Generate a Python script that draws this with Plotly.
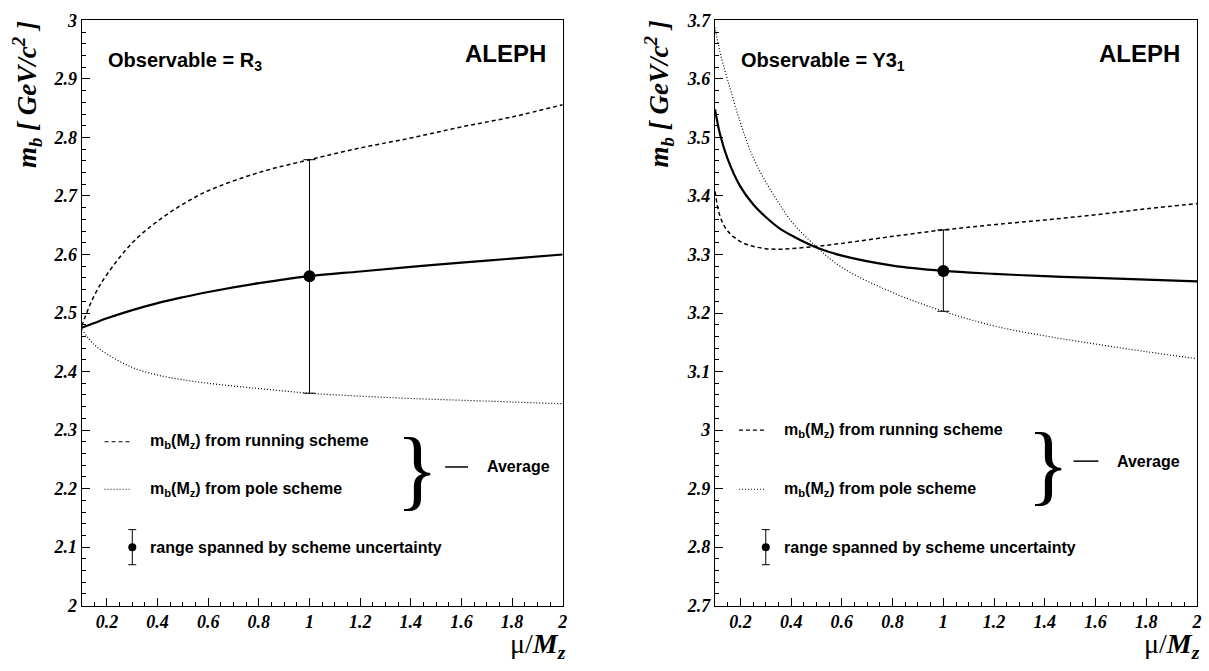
import plotly.graph_objects as go

W, H = 1209, 671

# ---------------- data ----------------
mu_r3 = [0.1, 0.15, 0.2, 0.3, 0.4, 0.5, 0.6, 0.8, 1.0, 1.2, 1.4, 1.6, 1.8, 2.0]
r3_average = [2.475, 2.483, 2.491, 2.505, 2.517, 2.527, 2.536, 2.551, 2.563, 2.571, 2.579, 2.586, 2.593, 2.600]
r3_running = [2.478, 2.530, 2.566, 2.620, 2.657, 2.686, 2.709, 2.740, 2.762, 2.782, 2.799, 2.818, 2.835, 2.856]
r3_pole = [2.472, 2.446, 2.430, 2.407, 2.394, 2.386, 2.380, 2.371, 2.363, 2.358, 2.354, 2.351, 2.348, 2.345]

mu_y3 = [0.1, 0.12, 0.15, 0.2, 0.25, 0.3, 0.35, 0.4, 0.5, 0.6, 0.8, 1.0, 1.2, 1.4, 1.6, 1.8, 2.0]
y3_average = [3.548, 3.505, 3.463, 3.416, 3.386, 3.364, 3.346, 3.333, 3.312, 3.298, 3.281, 3.272, 3.267, 3.263, 3.260, 3.257, 3.254]
y3_running = [3.408, 3.365, 3.340, 3.322, 3.314, 3.310, 3.309, 3.310, 3.314, 3.319, 3.331, 3.342, 3.351, 3.359, 3.368, 3.378, 3.387]
y3_pole = [3.688, 3.645, 3.598, 3.525, 3.466, 3.424, 3.389, 3.357, 3.313, 3.278, 3.235, 3.203, 3.178, 3.161, 3.147, 3.134, 3.122]

point_mu = [1.0]
r3_point = [2.563]
r3_point_low = [2.363]
r3_point_high = [2.762]
y3_point = [3.272]
y3_point_low = [3.203]
y3_point_high = [3.342]

# legend key marker (data coordinates)
key_mu = [0.3]
r3_key = [2.1]
y3_key = [2.8]
key_err = [0.03]

x_tickvals = [0.2, 0.4, 0.6, 0.8, 1.0, 1.2, 1.4, 1.6, 1.8, 2.0]
x_ticktext = ["0.2", "0.4", "0.6", "0.8", "1", "1.2", "1.4", "1.6", "1.8", "2"]
r3_tickvals = [2.0, 2.1, 2.2, 2.3, 2.4, 2.5, 2.6, 2.7, 2.8, 2.9, 3.0]
r3_ticktext = ["2", "2.1", "2.2", "2.3", "2.4", "2.5", "2.6", "2.7", "2.8", "2.9", "3"]
y3_tickvals = [2.7, 2.8, 2.9, 3.0, 3.1, 3.2, 3.3, 3.4, 3.5, 3.6, 3.7]
y3_ticktext = ["2.7", "2.8", "2.9", "3", "3.1", "3.2", "3.3", "3.4", "3.5", "3.6", "3.7"]

legend_running = "m<sub>b</sub>(M<sub>z</sub>) from running scheme"
legend_pole = "m<sub>b</sub>(M<sub>z</sub>) from pole scheme"
legend_range = "range spanned by scheme uncertainty"
legend_average = "Average"
ytitle = "<b><i>m<sub>b</sub> [ GeV/c<sup>2</sup> ]</i></b>"
xtitle = "\u03bc/<b><i>M<sub>z</sub></i></b>"


def px(x):
    return x / W


def py(y):
    return 1 - y / H


def bi(labels):
    return ["<b><i>%s</i></b>" % s for s in labels]


fig = go.Figure()

panels = [
    dict(xa="x", ya="y", mu=mu_r3, avg=r3_average, run=r3_running, pole=r3_pole,
         pc=r3_point, pl=r3_point_low, ph=r3_point_high, key=r3_key),
    dict(xa="x2", ya="y2", mu=mu_y3, avg=y3_average, run=y3_running, pole=y3_pole,
         pc=y3_point, pl=y3_point_low, ph=y3_point_high, key=y3_key),
]

for p in panels:
    fig.add_trace(go.Scatter(x=p["mu"], y=p["run"], mode="lines", xaxis=p["xa"], yaxis=p["ya"],
                             line=dict(color="black", width=1.5, dash="4px,3px", shape="spline"),
                             hoverinfo="skip"))
    fig.add_trace(go.Scatter(x=p["mu"], y=p["pole"], mode="lines", xaxis=p["xa"], yaxis=p["ya"],
                             line=dict(color="black", width=1.2, dash="1px,2px", shape="spline"),
                             hoverinfo="skip"))
    fig.add_trace(go.Scatter(x=p["mu"], y=p["avg"], mode="lines", xaxis=p["xa"], yaxis=p["ya"],
                             line=dict(color="black", width=2.2, shape="spline"),
                             hoverinfo="skip"))
    fig.add_trace(go.Scatter(
        x=point_mu, y=p["pc"], mode="markers", xaxis=p["xa"], yaxis=p["ya"],
        marker=dict(color="black", size=12),
        error_y=dict(type="data", symmetric=False,
                     array=[h - c for h, c in zip(p["ph"], p["pc"])],
                     arrayminus=[c - l for c, l in zip(p["pc"], p["pl"])],
                     color="black", thickness=1, width=6),
        hoverinfo="skip"))
    fig.add_trace(go.Scatter(
        x=key_mu, y=p["key"], mode="markers", xaxis=p["xa"], yaxis=p["ya"],
        marker=dict(color="black", size=8),
        error_y=dict(type="data", array=key_err, color="black", thickness=1, width=4),
        hoverinfo="skip"))

tickfont = dict(family="Liberation Serif", size=18, color="black", weight="bold", style="italic")
common_x = dict(range=[0.1, 2.0], showline=True, linecolor="black", linewidth=1.3, mirror=True,
                ticks="inside", ticklen=8, tickwidth=1, tickcolor="black",
                tickmode="array", tickvals=x_tickvals, ticktext=bi(x_ticktext),
                tickfont=tickfont, showgrid=False, zeroline=False, ticklabeloverflow="allow",
                minor=dict(ticks="inside", ticklen=4, tickwidth=1, tickcolor="black",
                           tickmode="linear", tick0=0, dtick=0.05, showgrid=False))
common_y = dict(showline=True, linecolor="black", linewidth=1.3, mirror=True,
                ticks="inside", ticklen=8, tickwidth=1, tickcolor="black",
                tickmode="array", tickfont=tickfont, showgrid=False, zeroline=False,
                ticklabeloverflow="allow",
                minor=dict(ticks="inside", ticklen=4, tickwidth=1, tickcolor="black",
                           tickmode="linear", tick0=0, dtick=0.02, showgrid=False))

ydom = [py(614), py(10.7)]
fig.update_layout(
    width=W, height=H, margin=dict(l=0, r=0, t=0, b=0),
    paper_bgcolor="white", plot_bgcolor="white", showlegend=False,
    xaxis=dict(domain=[px(82), px(565)], anchor="y", **common_x),
    yaxis=dict(domain=ydom, anchor="x", range=[2.0, 3.0],
               tickvals=r3_tickvals, ticktext=bi(r3_ticktext), **common_y),
    xaxis2=dict(domain=[px(718), px(1202)], anchor="y2", **common_x),
    yaxis2=dict(domain=ydom, anchor="x2", range=[2.7, 3.7],
                tickvals=y3_tickvals, ticktext=bi(y3_ticktext), **common_y),
)

ann = []
shapes = []
sans_b = dict(family="Liberation Sans", color="black")
serif = dict(family="Liberation Serif", color="black")


def text(x, y, s, font, xanchor="left", yanchor="middle", angle=0):
    ann.append(dict(x=px(x), y=py(y), xref="paper", yref="paper", text=s, showarrow=False,
                    xanchor=xanchor, yanchor=yanchor, font=font, textangle=angle))


# panel-specific layout (pixel geometry)
geo = [
    dict(left=82, right=565, ytx=27, obs="<b>Observable = R<sub>3</sub></b>",
         run_y=445, pole_y=494, samp=(105, 130), txt=149, brace=(419, 474), dash_y=471, dash=(447, 470),
         avg=487, key_y=554),
    dict(left=718, right=1202, ytx=662, obs="<b>Observable = Y3<sub>1</sub></b>",
         run_y=433, pole_y=494, samp=(742, 768), txt=785, brace=(1052, 468), dash_y=465, dash=(1078, 1103),
         avg=1120, key_y=554),
]

for g in geo:
    text(g["left"] + 24, 53, g["obs"], dict(size=20, **sans_b))
    text(g["right"] - 15, 45, "<b>ALEPH</b>", dict(size=24, **sans_b), xanchor="right")
    text(g["ytx"], 9, ytitle, dict(size=27, **serif), xanchor="center", yanchor="top", angle=-90)
    text(g["right"] + 5, 655, xtitle, dict(size=28, **serif), xanchor="right")
    # legend
    shapes.append(dict(type="line", xref="paper", yref="paper", x0=px(g["samp"][0]), x1=px(g["samp"][1]),
                       y0=py(g["run_y"]), y1=py(g["run_y"]), line=dict(color="black", width=1.2, dash="4px,3px")))
    shapes.append(dict(type="line", xref="paper", yref="paper", x0=px(g["samp"][0]), x1=px(g["samp"][1]),
                       y0=py(g["pole_y"]), y1=py(g["pole_y"]), line=dict(color="black", width=1, dash="1px,2px")))
    text(g["txt"], g["run_y"], "<b>%s</b>" % legend_running, dict(size=16, **sans_b))
    text(g["txt"], g["pole_y"], "<b>%s</b>" % legend_pole, dict(size=16, **sans_b))
    text(g["txt"], g["key_y"], "<b>%s</b>" % legend_range, dict(size=16, **sans_b))
    text(g["brace"][0], g["brace"][1], "}", dict(size=88, **serif), xanchor="center")
    shapes.append(dict(type="line", xref="paper", yref="paper", x0=px(g["dash"][0]), x1=px(g["dash"][1]),
                       y0=py(g["dash_y"]), y1=py(g["dash_y"]), line=dict(color="black", width=1.5)))
    text(g["avg"], g["dash_y"], "<b>%s</b>" % legend_average, dict(size=16, **sans_b))

fig.update_layout(annotations=ann, shapes=shapes)
fig.write_html("out.html", config={"displayModeBar": False},
               post_script="document.body.style.margin='0px';")
